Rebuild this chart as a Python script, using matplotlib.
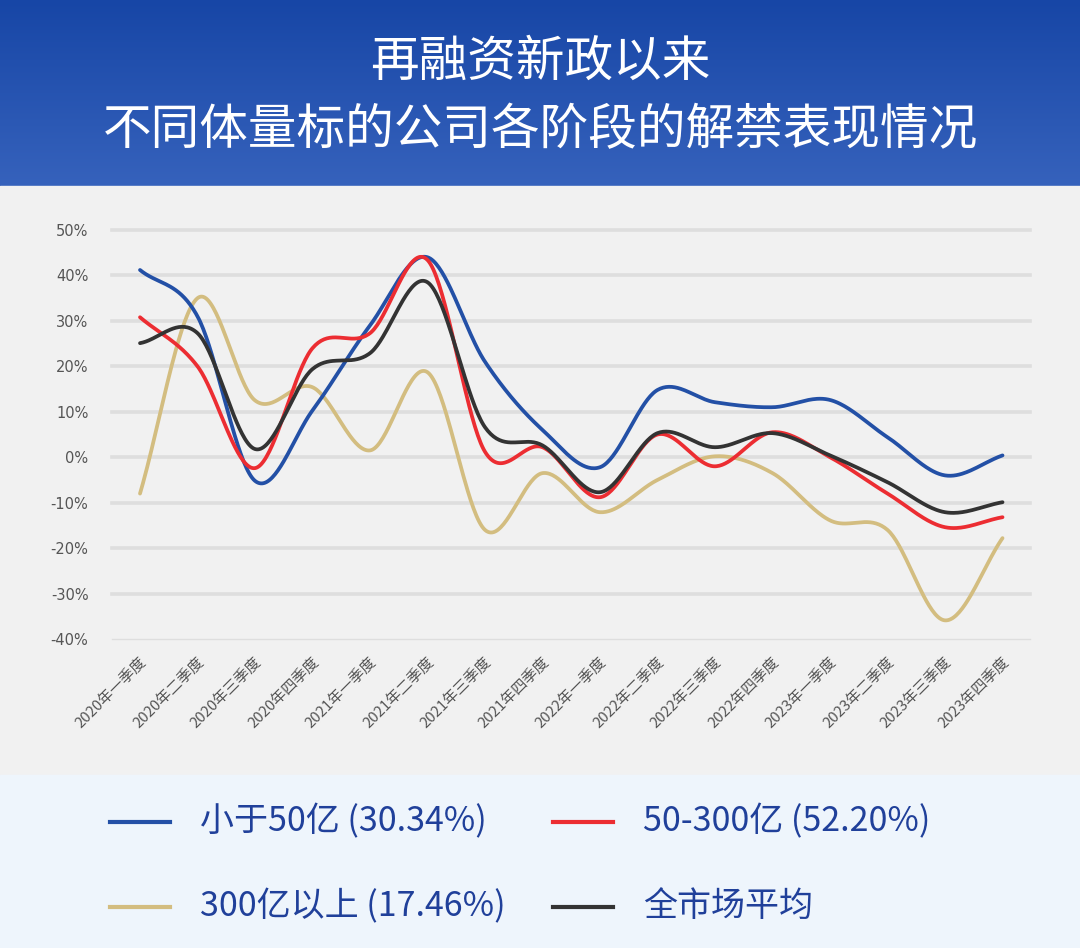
"""Line chart: lock-up expiry performance by company size since the refinancing reform."""

import numpy as np
import matplotlib
matplotlib.use("Agg")
import matplotlib.pyplot as plt
from matplotlib.patches import Rectangle
from matplotlib.lines import Line2D

plt.rcParams["font.family"] = ["Noto Sans CJK SC", "DejaVu Sans"]

# data (percent)
quarters = [
    "2020年一季度", "2020年二季度", "2020年三季度", "2020年四季度",
    "2021年一季度", "2021年二季度", "2021年三季度", "2021年四季度",
    "2022年一季度", "2022年二季度", "2022年三季度", "2022年四季度",
    "2023年一季度", "2023年二季度", "2023年三季度", "2023年四季度",
]
small_cap = [41.2, 31.0, -5.2, 10.3, 29.0, 44.0, 21.0, 6.0,
             -2.2, 14.8, 12.1, 11.0, 12.6, 4.4, -4.0, 0.4]
mid_cap = [30.8, 20.0, -2.4, 24.0, 27.3, 43.4, 1.2, 2.2,
           -8.8, 5.0, -2.0, 5.5, 0.0, -8.0, -15.4, -13.2]
large_cap = [-8.0, 35.0, 12.5, 15.4, 1.5, 18.7, -16.0, -3.5,
             -12.1, -5.0, 0.2, -3.5, -13.9, -16.0, -35.9, -17.8]
market_avg = [25.1, 27.3, 1.8, 19.4, 22.9, 38.5, 6.6, 2.6,
              -7.7, 5.3, 2.2, 5.3, 0.4, -5.5, -12.1, -9.9]

series_labels = ["小于50亿 (30.34%)", "50-300亿 (52.20%)", "300亿以上 (17.46%)", "全市场平均"]
y_ticks = [50, 40, 30, 20, 10, 0, -10, -20, -30, -40]

BLUE = "#2350a6"
RED = "#ec2d32"
GOLD = "#d3bd80"
DARK = "#333333"


def smooth(values, n=40):
    """Catmull-Rom style curve through the points (like echarts smooth lines)."""
    y = np.asarray(values, dtype=float)
    x = np.arange(len(y), dtype=float)
    m = np.zeros_like(y)
    m[1:-1] = (y[2:] - y[:-2]) / 2.0
    m[0] = y[1] - y[0]
    m[-1] = y[-1] - y[-2]
    xs, ys = [], []
    for i in range(len(y) - 1):
        t = np.linspace(0, 1, n, endpoint=False)
        h00 = 2 * t**3 - 3 * t**2 + 1
        h10 = t**3 - 2 * t**2 + t
        h01 = -2 * t**3 + 3 * t**2
        h11 = t**3 - t**2
        xs.append(x[i] + t)
        ys.append(h00 * y[i] + h10 * m[i] + h01 * y[i + 1] + h11 * m[i + 1])
    xs.append([x[-1]])
    ys.append([y[-1]])
    return np.concatenate(xs), np.concatenate(ys)


W, H = 1080, 948
fig = plt.figure(figsize=(W / 100, H / 100), dpi=100)

# background panels
bg = fig.add_axes([0, 0, 1, 1], zorder=-5)
bg.axis("off")
grad = np.linspace(0, 1, 256).reshape(-1, 1)
top_c = np.array([0x17, 0x46, 0xa6]) / 255
bot_c = np.array([0x36, 0x62, 0xbc]) / 255
grad_img = top_c + grad[..., None] * (bot_c - top_c)
bg.imshow(grad_img, extent=[0, W, 186, 0], aspect="auto", zorder=0)
bg.add_patch(Rectangle((0, 186), W, 589, color="#f1f1f1", zorder=0))
bg.add_patch(Rectangle((0, 775), W, H - 775, color="#eef5fc", zorder=0))
bg.set_xlim(0, W)
bg.set_ylim(H, 0)

# title
fig.text(0.5, 1 - 62 / H, "再融资新政以来", ha="center", va="center",
         color="white", fontsize=35)
fig.text(0.5, 1 - 130 / H, "不同体量标的公司各阶段的解禁表现情况", ha="center",
         va="center", color="white", fontsize=35)

# main chart
ax = fig.add_axes([112 / W, 1 - 639 / H, 918 / W, 409 / H])
ax.set_facecolor("none")
for sp in ax.spines.values():
    sp.set_visible(False)
ax.set_xlim(-0.487, 15.478)
ax.set_ylim(-40, 50)

for v in y_ticks:
    lw = 1.0 if v == -40 else 2.6
    ax.axhline(v, color="#dedede", lw=lw, zorder=1, clip_on=False)

for vals, col in [(large_cap, GOLD), (small_cap, BLUE), (mid_cap, RED), (market_avg, DARK)]:
    xs, ys = smooth(vals)
    ax.plot(xs, ys, color=col, lw=2.7, solid_capstyle="round", zorder=3, clip_on=False)

ax.set_yticks(y_ticks)
ax.set_yticklabels([f"{v}%" for v in y_ticks], fontsize=10.5, color="#555555",
                   family=["DejaVu Sans"])
ax.tick_params(axis="y", length=0, pad=17)
ax.set_xticks(range(len(quarters)))
ax.set_xticklabels(quarters, rotation=45, ha="right", va="top",
                   rotation_mode="anchor", fontsize=10.8, color="#555555")
ax.tick_params(axis="x", length=0, pad=12)

# legend, drawn by hand to match the layout
legend_cols = [BLUE, RED, GOLD, DARK]
positions = [(110, 822), (553, 822), (110, 907), (553, 907)]
for (lx, ly), col, lab in zip(positions, legend_cols, series_labels):
    bg.add_line(Line2D([lx, lx + 60], [ly, ly], color=col, lw=3.0, zorder=2))
    bg.text(lx + 90, ly, lab, ha="left", va="center", color="#20409a",
            fontsize=24.5, zorder=2)

fig.savefig("out.png", dpi=100)
